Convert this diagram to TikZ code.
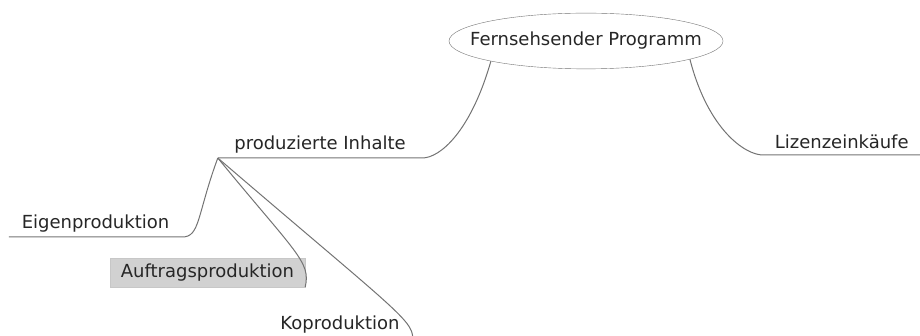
\documentclass[tikz,border=0pt]{standalone}
\usepackage{fontspec}
\setmainfont{DejaVu Sans}
\usetikzlibrary{shapes.geometric}

\begin{document}
\begin{tikzpicture}[x=1pt, y=-1pt,
    root/.style={draw=black!55, ellipse, font=\fontsize{18}{21}\selectfont, text=black!85, inner xsep=-19pt, inner ysep=11pt},
    topic/.style={font=\fontsize{18}{21}\selectfont, text=black!85, inner sep=0pt, minimum height=26pt, anchor=south},
    hl/.style={fill=black!18, draw=black!22},
    edge/.style={draw=black!55, line width=1pt}
]
\useasboundingbox (0,0) rectangle (920,336);
\node[root] (prog) at (586,41) {Fernsehsender Programm};
\node[topic, minimum width=204pt] (prod) at (320,158) {produzierte Inhalte};
\node[topic, minimum width=157pt, anchor=south west] (liz) at (763,155) {Lizenzeinkäufe};
\node[topic, minimum width=173pt] (eigen) at (95.5,237) {Eigenproduktion};
\node[topic, hl, minimum width=195pt, minimum height=29pt] (auftr) at (207.5,287) {Auftragsproduktion};
\node[topic, minimum width=145pt] (kopro) at (340,338) {Koproduktion};

\draw[edge] (prog.192) .. controls +(-20,70) and +(18,0) .. (prod.south east) -- (prod.south west);
\draw[edge] (prog.-10) .. controls +(18,70) and +(-18,0) .. (liz.south west) -- (liz.south east);
\draw[edge] (prod.south west) .. controls +(-21,57) and +(18,0) .. (eigen.south east) -- (eigen.south west);
\draw[edge] (prod.south west) .. controls +(78,95) and +(6,-25) .. (auftr.south east);
\draw[edge] (prod.south west) .. controls +(175,150) and +(0,-18) .. (kopro.south east);
\end{tikzpicture}
\end{document}
